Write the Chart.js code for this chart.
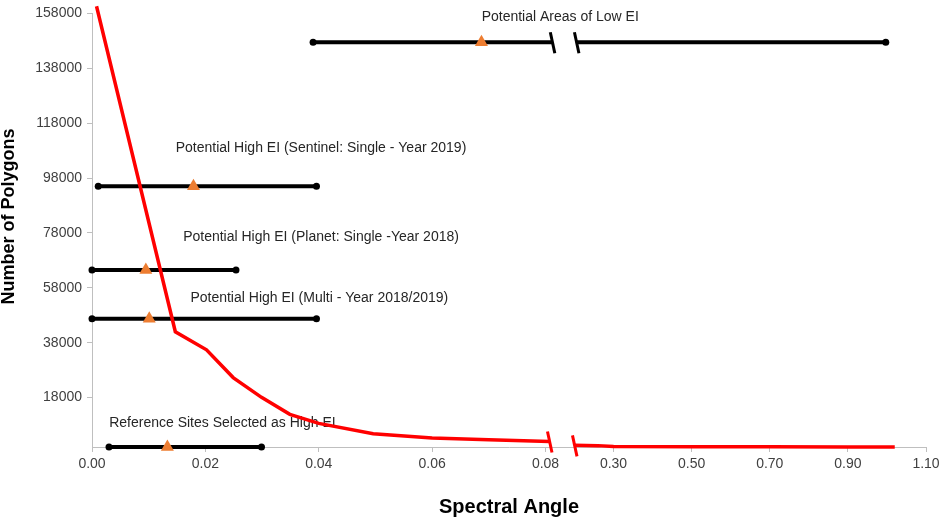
<!DOCTYPE html>
<html lang="en">
<head>
    <meta charset="UTF-8">
    <title>Spectral Angle vs Number of Polygons</title>
    <script src="https://cdn.jsdelivr.net/npm/chart.js"></script>
    <style>
        html, body { margin: 0; padding: 0; background: #fff; }
        #wrap { width: 941px; height: 521px; }
    </style>
</head>
<body>
    <div id="wrap"><canvas id="chartSpectral"></canvas></div>

    <script>
        // axis ticks
        const xTickValues = [0, 0.02, 0.04, 0.06, 0.08, 0.30, 0.50, 0.70, 0.90, 1.10];
        const xTickLabels = ['0.00', '0.02', '0.04', '0.06', '0.08', '0.30', '0.50', '0.70', '0.90', '1.10'];
        const yTickValues = [18000, 38000, 58000, 78000, 98000, 118000, 138000, 158000];

        // red curve, left part (0 - 0.08) and right part (after the break)
        const curveNearAngle = [0.0008, 0.0147, 0.0202, 0.0249, 0.0299, 0.0349, 0.0400, 0.0496, 0.0600, 0.0700, 0.0807];
        const curveNearCount = [160600, 42000, 35400, 25300, 18100, 11900, 8600, 4800, 3250, 2650, 2000];
        const curveFarAngle = [0.20, 0.26, 0.30, 0.50, 0.70, 0.90, 1.02];
        const curveFarCount = [600, 500, 150, 100, 60, 30, 0];

        // ranges with mean marker
        const rangeNames = [
            'Potential Areas of Low EI',
            'Potential High EI (Sentinel: Single - Year 2019)',
            'Potential High EI (Planet: Single -Year 2018)',
            'Potential High EI (Multi - Year 2018/2019)',
            'Reference Sites Selected as High EI'
        ];
        const rangeCount = [147500, 95000, 64500, 46700, 0];
        const rangeLow = [0.039, 0.0011, 0.0, 0.0, 0.0030];
        const rangeHigh = [0.997, 0.0396, 0.0254, 0.0396, 0.0299];
        const rangeMean = [0.0687, 0.0179, 0.0095, 0.0101, 0.0133];
        const lowEiBreak = [0.0812, 0.205];
        const nameAngle = [0.0826, 0.0404, 0.0404, 0.0401, 0.0230];
        const nameCount = [156800, 108800, 76500, 54200, 8600];

        // broken x axis: 0-0.08 as is, then 0.30-1.10 squeezed
        const BREAK_POS = 0.092;
        const FAR_SCALE = 0.0689;
        const toAxis = (a) => a < 0.14 ? a : BREAK_POS + (a - 0.30) * FAR_SCALE;

        const FONT = 'Liberation Sans, Arial, sans-serif';
        const pts = (xs, ys) => xs.map((a, i) => ({ x: toAxis(a), y: ys[i] }));

        const datasets = [];
        rangeNames.forEach((name, i) => {
            let data, radius;
            if (i === 0) {
                data = [
                    { x: toAxis(rangeLow[i]), y: rangeCount[i] },
                    { x: toAxis(lowEiBreak[0]), y: rangeCount[i] },
                    { x: toAxis(0.14), y: null },
                    { x: toAxis(lowEiBreak[1]), y: rangeCount[i] },
                    { x: toAxis(rangeHigh[i]), y: rangeCount[i] }
                ];
                radius = [3.5, 0, 0, 0, 3.5];
            } else {
                data = [
                    { x: toAxis(rangeLow[i]), y: rangeCount[i] },
                    { x: toAxis(rangeHigh[i]), y: rangeCount[i] }
                ];
                radius = [3.5, 3.5];
            }
            datasets.push({
                label: name, data: data, borderColor: '#000', borderWidth: 4,
                pointRadius: radius, pointBackgroundColor: '#000', pointBorderWidth: 0,
                spanGaps: false, clip: false, order: 2
            });
        });
        datasets.push({
            label: 'mean', data: pts(rangeMean, rangeCount), showLine: false,
            pointStyle: 'triangle', pointRadius: 7.5, pointBackgroundColor: '#ED7D31',
            pointBorderWidth: 0, clip: false, order: 1
        });
        datasets.push({
            label: 'curveNear', data: pts(curveNearAngle, curveNearCount), borderColor: '#FF0000',
            borderWidth: 3.5, pointRadius: 0, clip: false, order: 0
        });
        datasets.push({
            label: 'curveFar', data: pts(curveFarAngle, curveFarCount), borderColor: '#FF0000',
            borderWidth: 3.5, pointRadius: 0, clip: false, order: 0
        });

        // range names under the lines, break marks on top, y title
        const annotations = {
            id: 'annotations',
            beforeDatasetsDraw(chart) {
                const { ctx, scales: { x, y } } = chart;
                ctx.save();
                ctx.fillStyle = '#262626';
                ctx.font = '14px ' + FONT;
                ctx.textAlign = 'center';
                ctx.textBaseline = 'middle';
                rangeNames.forEach((name, i) => {
                    ctx.fillText(name, x.getPixelForValue(toAxis(nameAngle[i])), y.getPixelForValue(nameCount[i]));
                });
                // y axis title
                ctx.translate(9, y.getPixelForValue(84000));
                ctx.rotate(-Math.PI / 2);
                ctx.fillStyle = '#000';
                ctx.font = 'bold 18px ' + FONT;
                ctx.fillText('Number of Polygons', 0, 0);
                ctx.restore();
            },
            afterDatasetsDraw(chart) {
                const { ctx, scales: { x, y } } = chart;
                const mark = (a, v, color) => {
                    const px = x.getPixelForValue(toAxis(a));
                    const py = y.getPixelForValue(v);
                    ctx.beginPath();
                    ctx.moveTo(px - 2, py - 10);
                    ctx.lineTo(px + 2.5, py + 11);
                    ctx.strokeStyle = color;
                    ctx.lineWidth = 3;
                    ctx.stroke();
                };
                ctx.save();
                mark(curveNearAngle[curveNearAngle.length - 1], curveNearCount[curveNearCount.length - 1], '#FF0000');
                mark(curveFarAngle[0], curveFarCount[0], '#FF0000');
                mark(lowEiBreak[0], rangeCount[0], '#000');
                mark(lowEiBreak[1], rangeCount[0], '#000');
                ctx.restore();
            }
        };

        const ctx = document.getElementById('chartSpectral').getContext('2d');
        new Chart(ctx, {
            type: 'line',
            data: { datasets: datasets },
            plugins: [annotations],
            options: {
                responsive: true,
                maintainAspectRatio: false,
                animation: false,
                layout: { padding: { top: 7, right: 15, left: 0, bottom: 0 } },
                plugins: { legend: { display: false }, tooltip: { enabled: false } },
                scales: {
                    x: {
                        type: 'linear',
                        min: 0,
                        max: toAxis(1.10),
                        afterBuildTicks: (scale) => { scale.ticks = xTickValues.map(v => ({ value: toAxis(v) })); },
                        afterFit: (scale) => {
                            scale.height = 74;
                            scale.paddingLeft = 0;
                            scale.paddingRight = 0;
                        },
                        ticks: {
                            autoSkip: false, maxRotation: 0, padding: 4,
                            color: '#404040', font: { family: FONT, size: 14 },
                            callback: (v, i) => xTickLabels[i]
                        },
                        grid: { drawOnChartArea: false, tickLength: 5, color: '#bfbfbf' },
                        border: { color: '#bfbfbf' },
                        title: {
                            display: true, text: 'Spectral Angle', color: '#000',
                            font: { family: FONT, size: 20, weight: 'bold', lineHeight: 1 },
                            padding: { top: 0, bottom: 4 }
                        }
                    },
                    y: {
                        min: 0,
                        max: 158000,
                        afterBuildTicks: (scale) => { scale.ticks = yTickValues.map(v => ({ value: v })); },
                        afterFit: (scale) => { scale.width = 92; },
                        ticks: {
                            autoSkip: false, padding: 5,
                            color: '#404040', font: { family: FONT, size: 14 },
                            callback: (v) => String(v)
                        },
                        grid: { drawOnChartArea: false, tickLength: 5, color: '#bfbfbf' },
                        border: { color: '#bfbfbf' }
                    }
                }
            }
        });
    </script>
</body>
</html>
